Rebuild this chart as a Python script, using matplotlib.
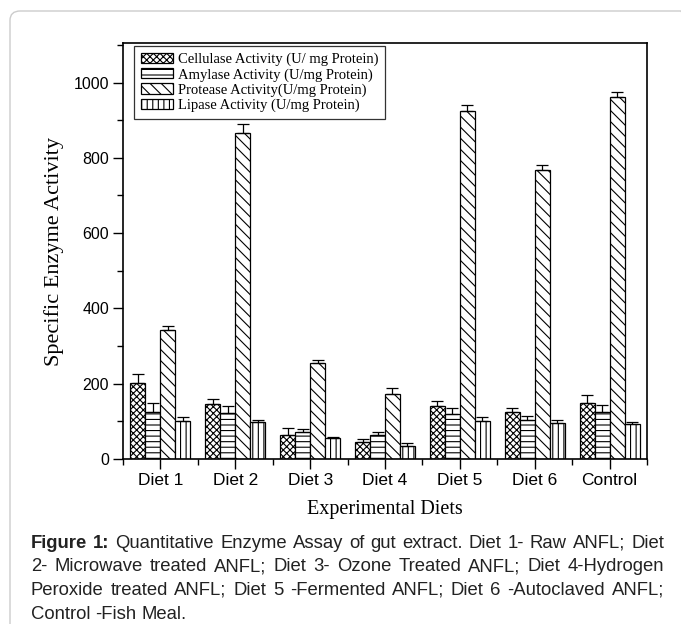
import numpy as np
import matplotlib.pyplot as plt
from matplotlib.patches import FancyBboxPatch
from matplotlib.ticker import MultipleLocator, FixedLocator

plt.rcParams['hatch.linewidth'] = 0.8

diets = ['Diet 1', 'Diet 2', 'Diet 3', 'Diet 4', 'Diet 5', 'Diet 6', 'Control']

cellulase = [201, 145, 63, 44, 140, 124, 148]
cellulase_err = [25, 14, 20, 10, 14, 12, 23]
amylase = [126, 123, 72, 63, 120, 104, 126]
amylase_err = [22, 18, 9, 9, 15, 10, 17]
protease = [343, 866, 256, 173, 925, 767, 961]
protease_err = [11, 25, 8, 16, 15, 14, 15]
lipase = [102, 97, 57, 34, 102, 95, 92]
lipase_err = [10, 7, 1, 8, 10, 8, 5]

series = [
    ('Cellulase Activity (U/ mg Protein)', cellulase, cellulase_err, 'xxxxx'),
    ('Amylase Activity (U/mg Protein)', amylase, amylase_err, '---'),
    ('Protease Activity(U/mg Protein)', protease, protease_err, '\\\\\\'),
    ('Lipase Activity (U/mg Protein)', lipase, lipase_err, '|||'),
]

# caption lines (the last one is not justified)
cap_lines = [
    'Figure 1: Quantitative Enzyme Assay of gut extract.  Diet 1- Raw ANFL; Diet',
    '2- Microwave treated ANFL; Diet 3- Ozone Treated ANFL; Diet 4-Hydrogen',
    'Peroxide treated ANFL; Diet 5 -Fermented ANFL; Diet 6 -Autoclaved ANFL;',
    'Control -Fish Meal.',
]

serif = ['Liberation Serif', 'DejaVu Serif']
sans = ['Liberation Sans', 'DejaVu Sans']

W, H = 681, 624
fig = plt.figure(figsize=(W / 100, H / 100), dpi=100)
ax = fig.add_axes([123 / W, 1 - 459 / H, (647 - 123) / W, (459 - 43) / H])

x = np.arange(len(diets))
w = 0.2
for i, (name, vals, err, hatch) in enumerate(series):
    pos = x - 0.3 + i * w
    ax.bar(pos, vals, width=w, color='white', edgecolor='black', linewidth=0.9,
           hatch=hatch, label=name, zorder=2)
    ax.errorbar(pos, vals, yerr=[np.zeros(len(vals)), err], fmt='none',
                ecolor='black', elinewidth=0.9, capsize=4, capthick=0.9, zorder=3)

ax.set_xlim(-0.5, 6.5)
ax.set_ylim(0, 1105)
ax.set_xticks(x)
ax.set_xticklabels(diets, family=sans, fontsize=12.5)
ax.xaxis.set_minor_locator(FixedLocator(np.arange(-0.5, 7, 1.0)))
ax.yaxis.set_major_locator(MultipleLocator(200))
ax.yaxis.set_minor_locator(MultipleLocator(100))
for lab in ax.get_yticklabels():
    lab.set_family(sans)
    lab.set_fontsize(11.5)
ax.tick_params(which='major', direction='out', length=7, width=1, pad=3)
ax.tick_params(which='minor', direction='out', length=4, width=1)
for sp in ax.spines.values():
    sp.set_linewidth(1.2)

ax.set_ylabel('Specific Enzyme Activity', family=serif, fontsize=16, labelpad=7)
ax.set_xlabel('Experimental Diets', family=serif, fontsize=14.5, labelpad=9)

leg = ax.legend(loc='upper left', bbox_to_anchor=(0.021, 0.992), prop={'family': serif, 'size': 10.5},
                frameon=True, fancybox=False, edgecolor='black', handlelength=2.25,
                handleheight=0.7, handletextpad=0.3, labelspacing=0.12, borderpad=0.45,
                borderaxespad=0)
leg.get_frame().set_linewidth(0.9)

border = FancyBboxPatch((10 / W, -0.1), 1.0, 1 - 11 / H + 0.1,
                        boxstyle='round,pad=0,rounding_size=0.015',
                        transform=fig.transFigure, facecolor='none',
                        edgecolor='#cccccc', linewidth=1.0)
fig.patches.append(border)

# justified caption, word by word
cap_color = '#222222'
cap_size = 13.3
left, right = 31, 664
fig.canvas.draw()
rend = fig.canvas.get_renderer()
t1 = fig.text(0, 0, 'a b', family=sans, fontsize=cap_size)
t2 = fig.text(0, 0, 'ab', family=sans, fontsize=cap_size)
sw = t1.get_window_extent(rend).width - t2.get_window_extent(rend).width
t1.remove()
t2.remove()
for k, line in enumerate(cap_lines):
    yy = 1 - (543 + 23.7 * k) / H
    words = line.split()
    texts = []
    for j, wd in enumerate(words):
        bold = (k == 0 and j < 2)
        t = fig.text(0, yy, wd, family=sans, fontsize=cap_size, color=cap_color,
                     weight='bold' if bold else 'normal', va='center')
        texts.append(t)
    widths = [t.get_window_extent(rend).width for t in texts]
    if k < len(cap_lines) - 1:
        gap = (right - left - sum(widths)) / (len(words) - 1)
    else:
        gap = sw
    xp = left
    for t, wdt in zip(texts, widths):
        t.set_x(xp / W)
        xp += wdt + gap

fig.savefig('out.png', dpi=100)
